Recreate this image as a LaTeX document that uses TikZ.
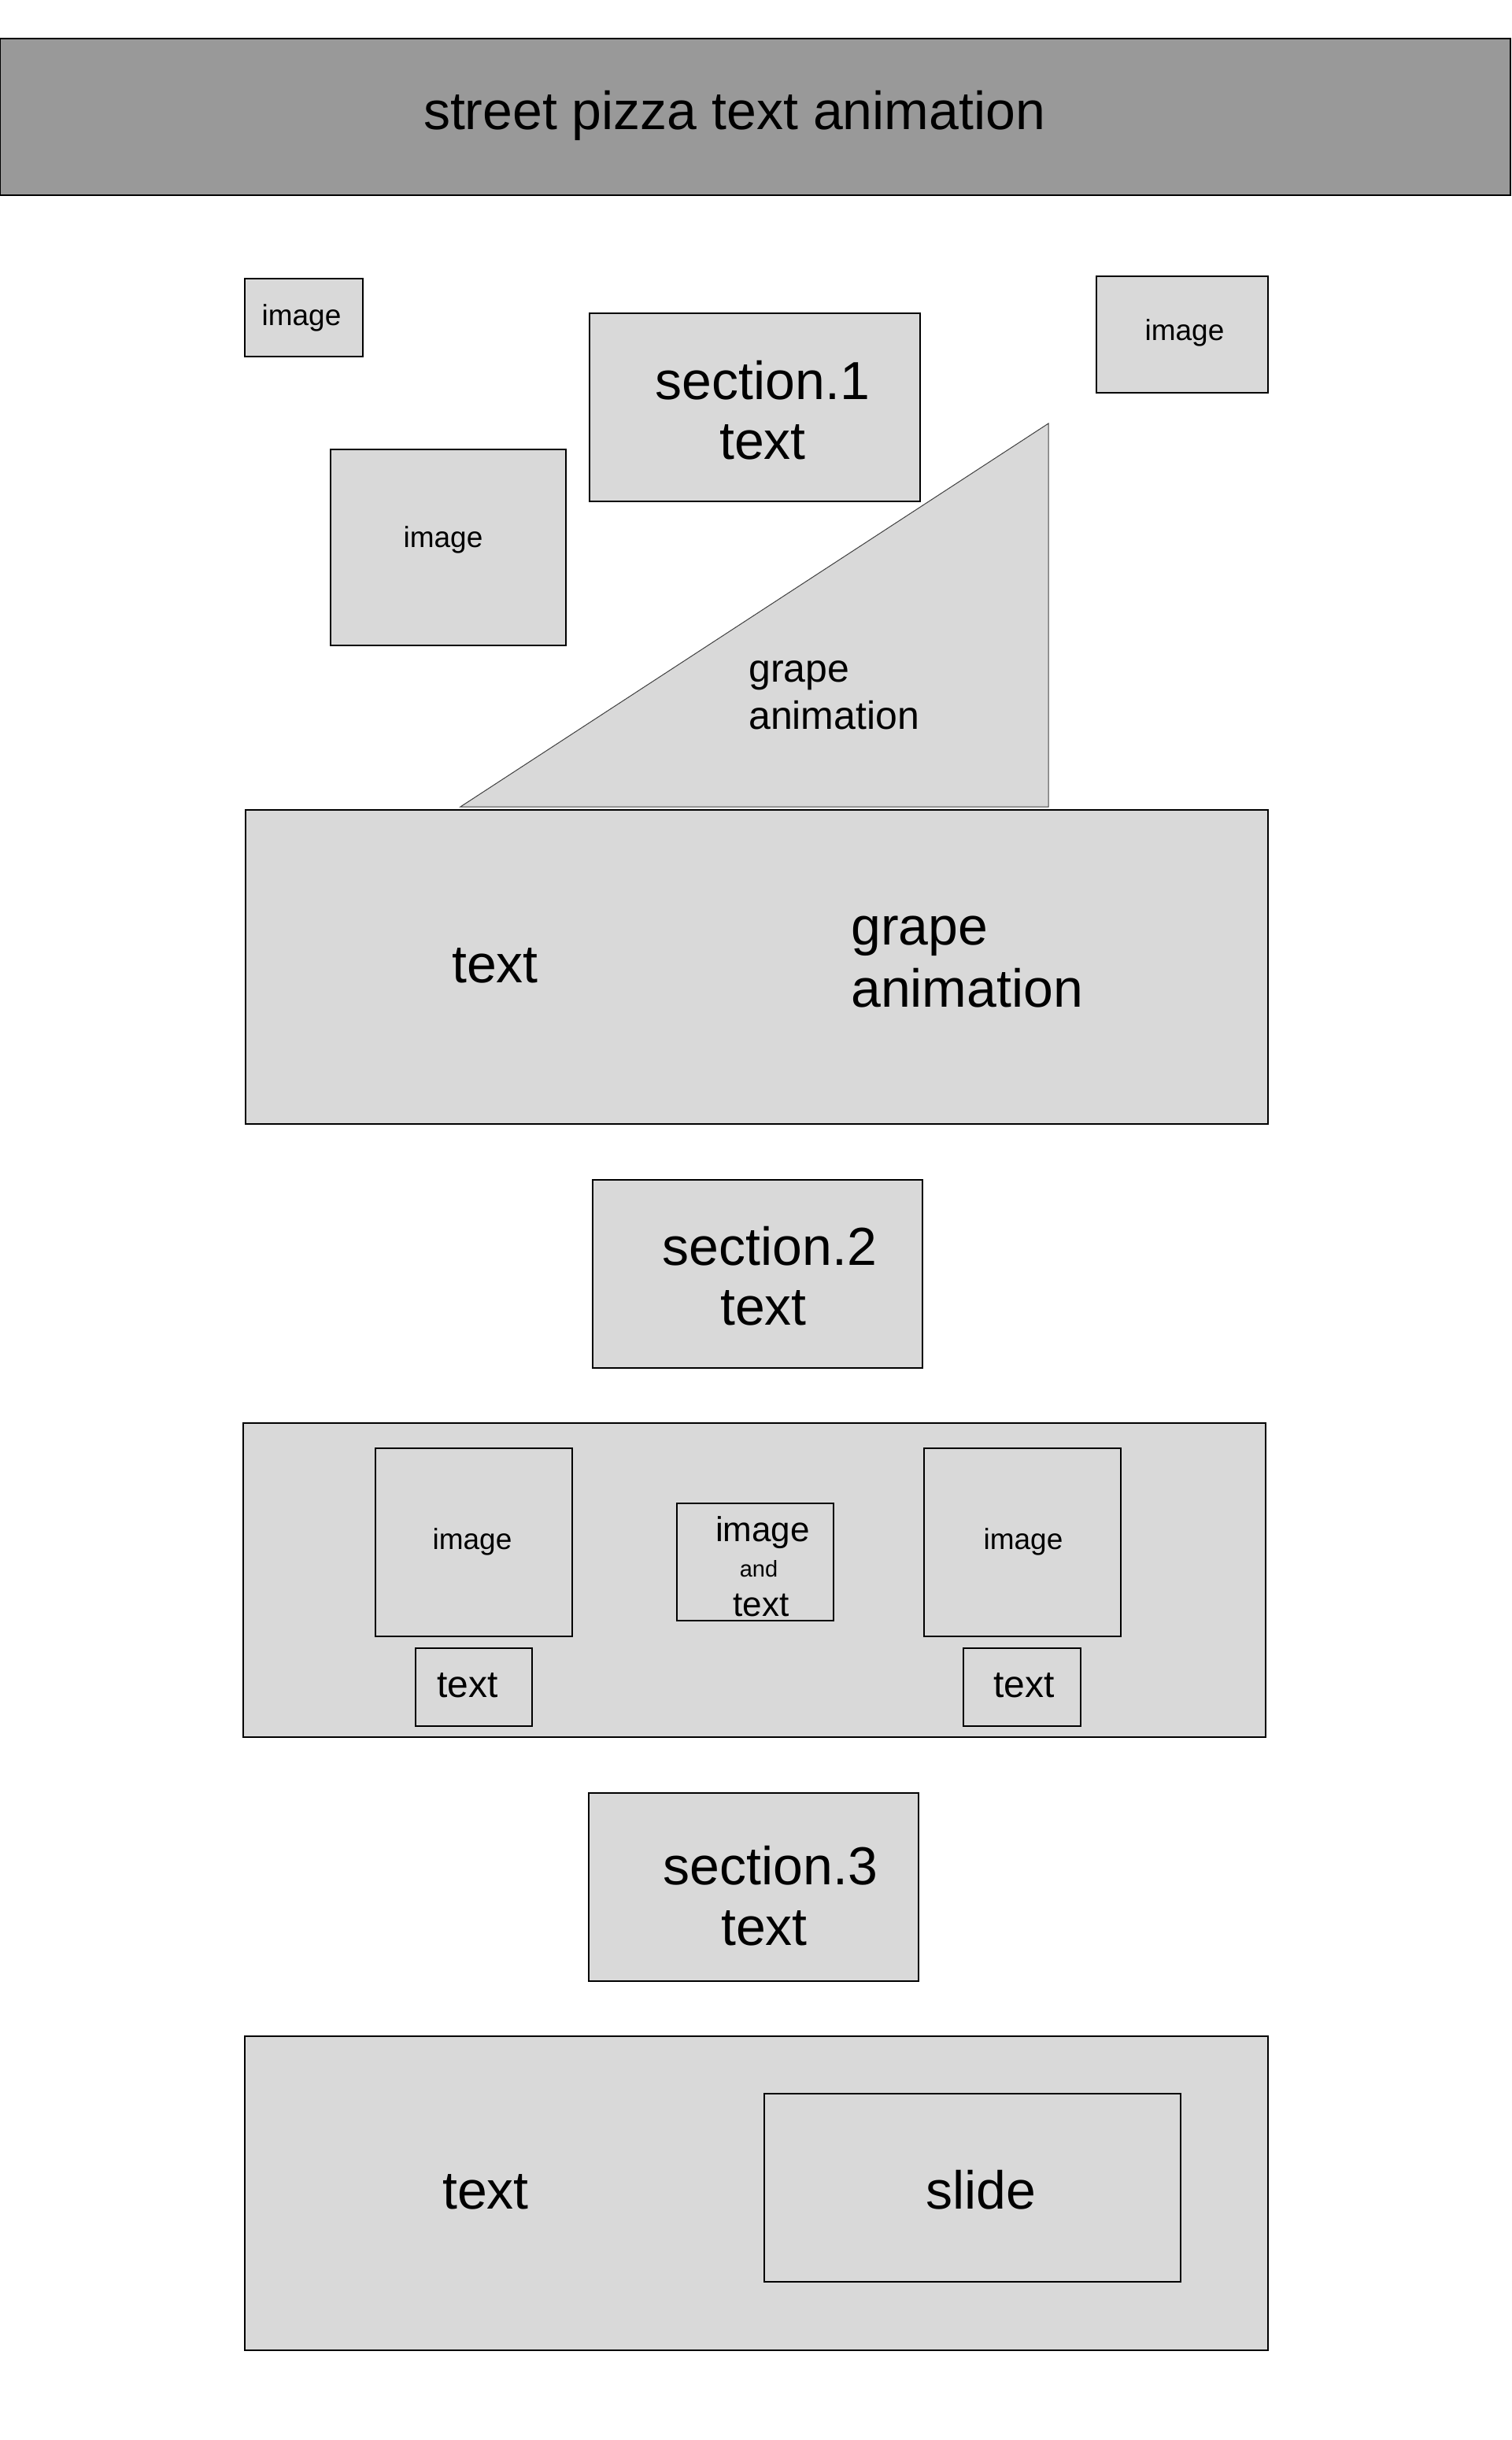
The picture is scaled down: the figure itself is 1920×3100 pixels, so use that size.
\documentclass[tikz,border=0pt]{standalone}
\usepackage{fontspec}
\setmainfont{Liberation Sans}
\definecolor{boxgray}{HTML}{D9D9D9}
\definecolor{headgray}{HTML}{999999}
\tikzset{
  frame/.style={draw=black, line width=1.2pt, fill=boxgray},
  headframe/.style={draw=black, line width=1.2pt, fill=headgray},
  tri/.style={draw=black!75, line width=1pt, fill=boxgray},
  lbl/.style={inner sep=0pt, anchor=base, text=black},
  lblw/.style={inner sep=0pt, anchor=base west, text=black},
  fhead/.style={font=\fontsize{68}{80}\selectfont},
  fbig/.style={font=\fontsize{68}{80}\selectfont},
  fmid/.style={font=\fontsize{50}{60}\selectfont},
  fimg/.style={font=\fontsize{37}{44}\selectfont},
  fimgb/.style={font=\fontsize{44}{52}\selectfont},
  fand/.style={font=\fontsize{29}{34}\selectfont},
  ftxt/.style={font=\fontsize{48}{56}\selectfont},
}
\begin{document}
\begin{tikzpicture}[x=1pt,y=-1pt]
\useasboundingbox (0,0) rectangle (1920,3100);
\fill[white] (0,0) rectangle (1920,3100);

% header
\path[headframe] (0,49) rectangle (1919,248);
\node[lbl,fhead] (title) at (933,164) {street pizza text animation};

% top area
\path[frame] (311,354) rectangle (461,453);
\node[lbl,fimg] (img1) at (383,413) {image};
\path[frame] (1393,351) rectangle (1611,499);
\node[lbl,fimg] (img2) at (1505,432) {image};
\path[frame] (749,398) rectangle (1169,637);
\node[lbl,fbig] (s1a) at (969,507) {section.1};
\node[lbl,fbig] (s1b) at (969,583) {text};
\path[frame] (420,571) rectangle (719,820);
\node[lbl,fimg] (img3) at (563,695) {image};

% triangle
\path[tri] (585,1025) -- (1332,538) -- (1332,1025) -- cycle;
\node[lblw,fmid] (tga) at (951,866) {grape};
\node[lblw,fmid] (tgb) at (951,926) {animation};

% big box 1
\path[frame] (312,1029) rectangle (1611,1428);
\node[lbl,fbig] (b1t) at (629,1248) {text};
\node[lblw,fbig] (b1ga) at (1081,1200) {grape};
\node[lblw,fbig] (b1gb) at (1081,1279) {animation};

% section 2
\path[frame] (753,1499) rectangle (1172,1738);
\node[lbl,fbig] (s2a) at (978,1607) {section.2};
\node[lbl,fbig] (s2b) at (970,1683) {text};

% container 2
\path[frame] (309,1808) rectangle (1608,2207);
\path[frame] (477,1840) rectangle (727,2079);
\node[lbl,fimg] (c2i1) at (600,1968) {image};
\path[frame] (860,1910) rectangle (1059,2059);
\node[lbl,fimgb] (c2m1) at (969,1958) {image};
\node[lbl,fand] (c2m2) at (964,2003) {and};
\node[lbl,fimgb] (c2m3) at (967,2053) {text};
\path[frame] (1174,1840) rectangle (1424,2079);
\node[lbl,fimg] (c2i2) at (1300,1968) {image};
\path[frame] (528,2094) rectangle (676,2193);
\node[lbl,ftxt] (c2t1) at (594,2156) {text};
\path[frame] (1224,2094) rectangle (1373,2193);
\node[lbl,ftxt] (c2t2) at (1301,2156) {text};

% section 3
\path[frame] (748,2278) rectangle (1167,2517);
\node[lbl,fbig] (s3a) at (979,2394) {section.3};
\node[lbl,fbig] (s3b) at (971,2471) {text};

% container 3
\path[frame] (311,2587) rectangle (1611,2986);
\node[lbl,fbig] (c3t) at (617,2806) {text};
\path[frame] (971,2660) rectangle (1500,2899);
\node[lbl,fbig] (c3s) at (1246,2806) {slide};
\end{tikzpicture}
\end{document}
